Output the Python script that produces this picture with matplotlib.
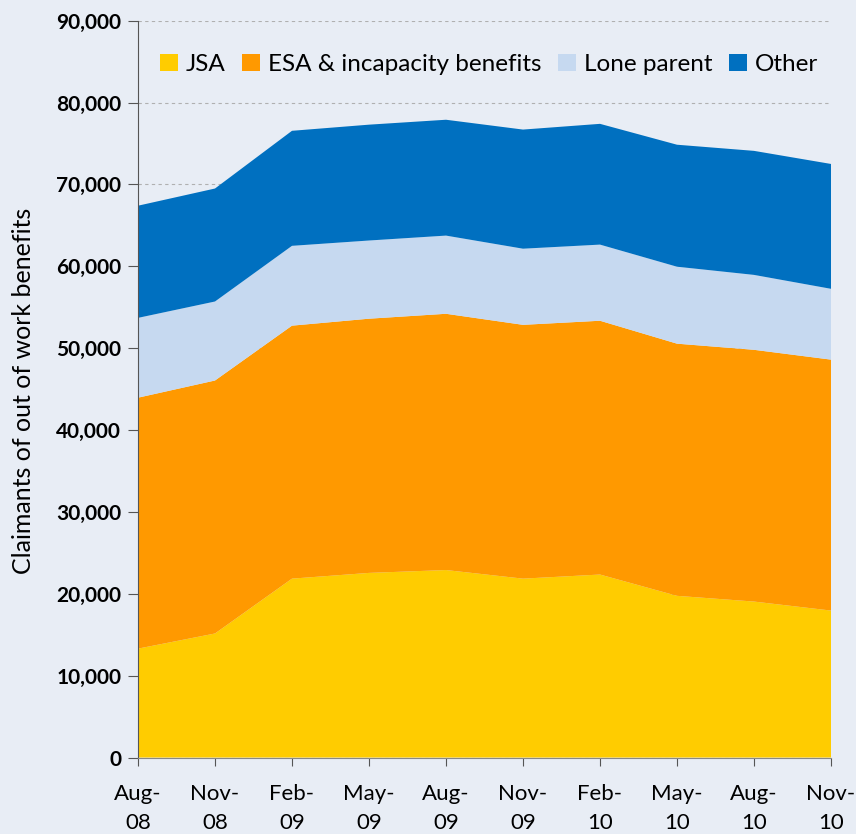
import matplotlib
matplotlib.use("Agg")
import matplotlib.pyplot as plt
import numpy as np
from matplotlib.ticker import FuncFormatter, MultipleLocator
from matplotlib.patches import Patch

categories = ["Aug-\n08", "Nov-\n08", "Feb-\n09", "May-\n09", "Aug-\n09",
              "Nov-\n09", "Feb-\n10", "May-\n10", "Aug-\n10", "Nov-\n10"]
jsa = [13300, 15150, 21850, 22550, 22900, 21850, 22350, 19750, 19050, 17950]
esa = [30650, 30900, 30900, 31050, 31300, 31000, 31000, 30800, 30750, 30650]
lone_parent = [9750, 9650, 9750, 9550, 9550, 9300, 9300, 9400, 9150, 8650]
other = [13700, 13800, 14050, 14150, 14150, 14550, 14750, 14900, 15150, 15250]
series_names = ["JSA", "ESA & incapacity benefits", "Lone parent", "Other"]
colors = ["#FFCC00", "#FF9900", "#C6D9F0", "#0070C0"]

font = "Lato"
bg = "#E8EDF5"

fig = plt.figure(figsize=(8.56, 8.34), dpi=100, facecolor=bg)
ax = fig.add_axes([0.1612, 0.0917, 0.8096, 0.8835])
ax.set_facecolor(bg)

x = np.arange(len(categories))
ax.stackplot(x, jsa, esa, lone_parent, other, colors=colors, linewidth=0, zorder=2)

ax.set_xlim(0, len(categories) - 1)
ax.set_ylim(0, 90000)
ax.yaxis.set_major_locator(MultipleLocator(10000))
ax.yaxis.set_major_formatter(FuncFormatter(lambda v, p: f"{int(v):,}"))
ax.grid(axis="y", color="#B0B0B0", linestyle=(0, (3, 3)), linewidth=0.8, zorder=1)
ax.set_axisbelow(True)

ax.set_xticks(x)
ax.set_xticklabels(categories, fontsize=16, family=font, linespacing=1.55, color="black")
for lab in ax.get_yticklabels():
    lab.set_fontweight("bold")
    lab.set_family(font)
    lab.set_fontsize(15)
    lab.set_color("black")

for s in ["top", "right"]:
    ax.spines[s].set_visible(False)
ax.spines["left"].set_color("#555555")
ax.spines["bottom"].set_color("#888888")
ax.tick_params(axis="y", length=7, color="#555555", pad=5)
ax.tick_params(axis="x", length=6, color="#555555", pad=13)

ax.set_ylabel("Claimants of out of work benefits", fontsize=18, family=font, color="black")
ax.yaxis.set_label_coords(-0.149, 0.497)

handles = [Patch(facecolor=c, edgecolor="none") for c in colors]
ax.legend(handles, series_names, loc="upper left", bbox_to_anchor=(0.0, 0.985),
          ncol=4, frameon=False, prop={"family": font, "size": 17.5},
          handlelength=0.75, handleheight=0.75, handletextpad=0.3, columnspacing=0.7,
          labelcolor="black")

fig.savefig("out.png", dpi=100, facecolor=bg)
